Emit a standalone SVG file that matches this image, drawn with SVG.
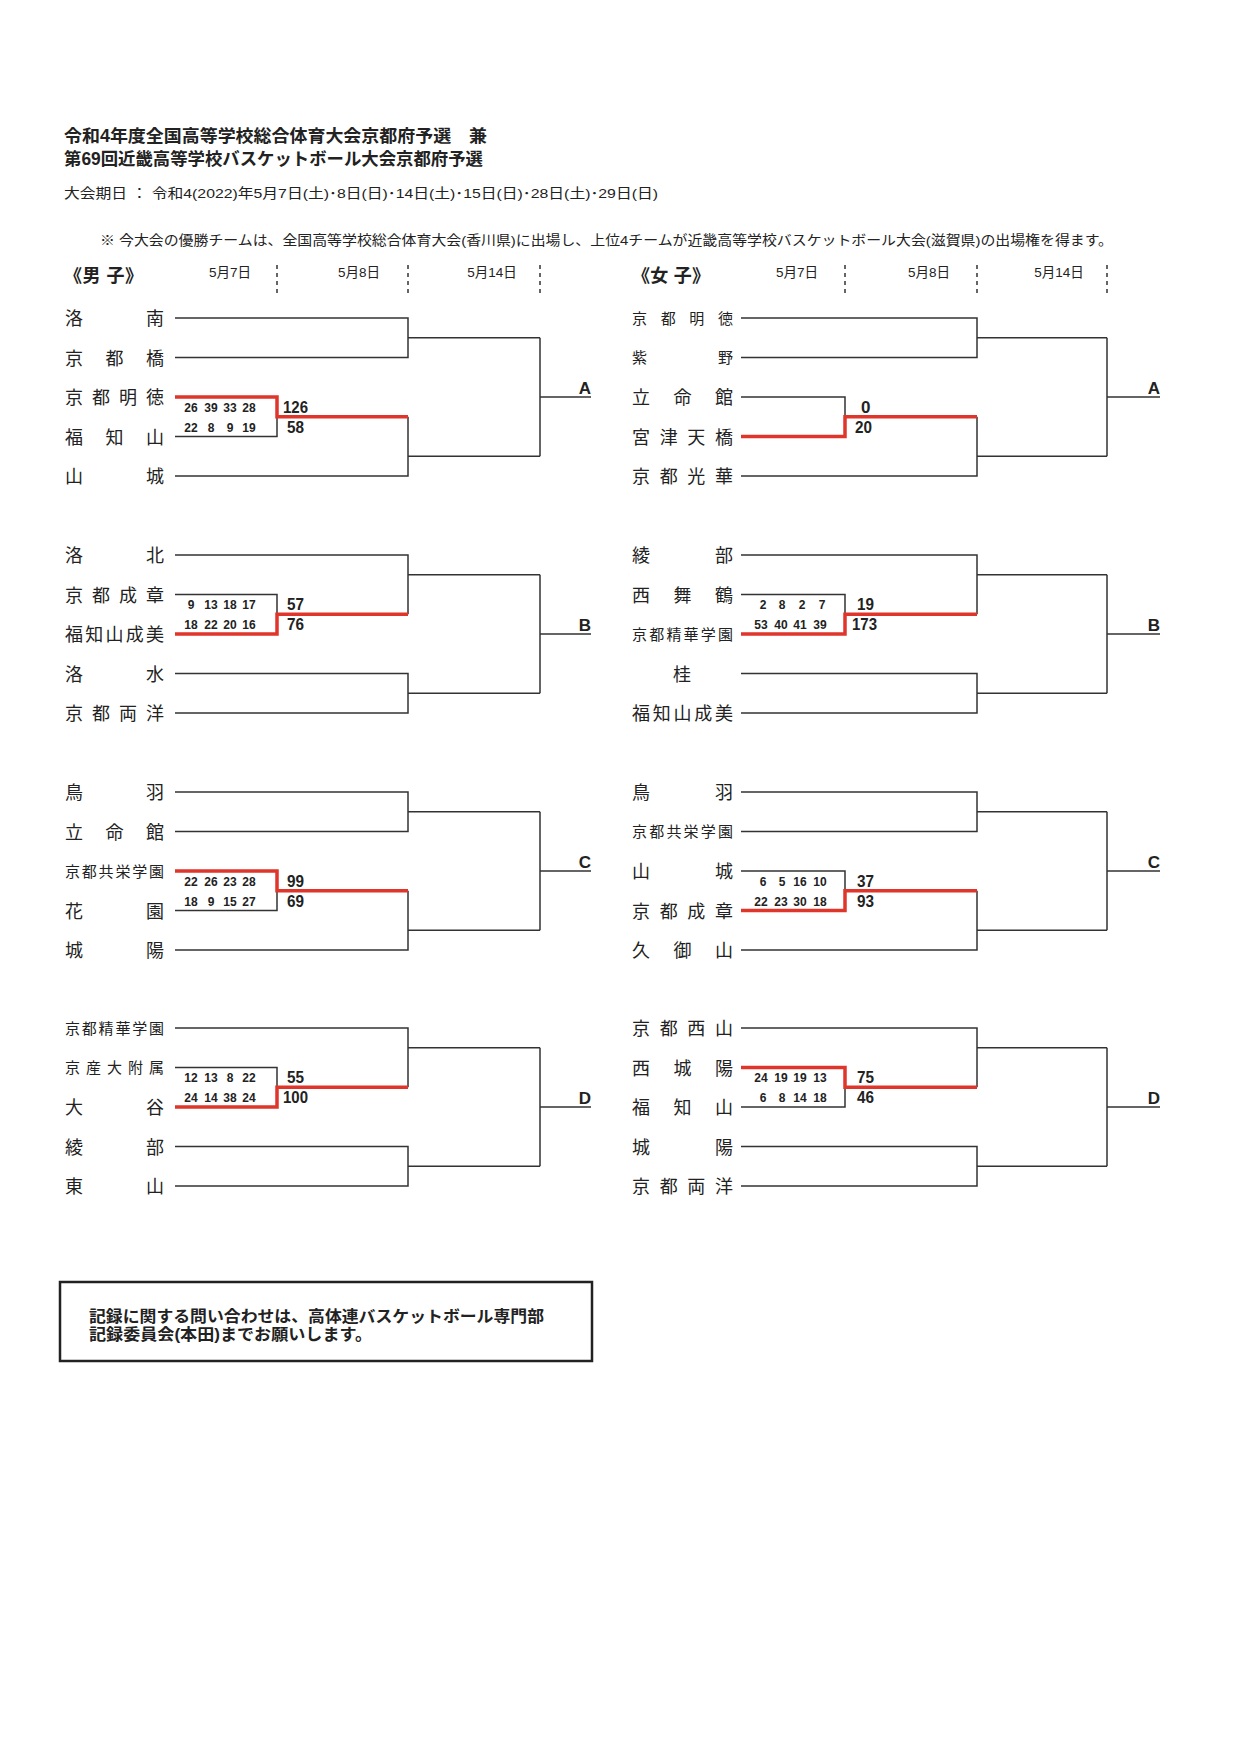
<svg xmlns="http://www.w3.org/2000/svg" width="1241" height="1752" viewBox="0 0 1241 1752">
<style>
text{font-family:"Liberation Sans","Noto Sans CJK JP",sans-serif;fill:#222}
.t{font-size:17.5px;font-weight:bold}
.s{font-size:13.5px}
.h{font-size:18px;font-weight:bold}
.d{font-size:13.5px;text-anchor:middle}
.n{font-size:18px}
.ns{font-size:15px}
.sc{font-size:17px;font-weight:bold}
.q{font-size:12px;font-weight:bold;text-anchor:middle}
.L{font-size:17px;font-weight:bold;text-anchor:middle}
.b{fill:none;stroke:#333;stroke-width:1.5}
.r{fill:none;stroke:#e0352b;stroke-width:3.5}
.dash{stroke:#333;stroke-width:1.5;stroke-dasharray:4 4}
</style>
<g id="header">
<text class="t" x="64" y="142" textLength="423" lengthAdjust="spacingAndGlyphs">令和4年度全国高等学校総合体育大会京都府予選　兼</text>
<text class="t" x="64" y="165" textLength="419" lengthAdjust="spacingAndGlyphs">第69回近畿高等学校バスケットボール大会京都府予選</text>
<text class="s" x="64" y="198" textLength="594" lengthAdjust="spacingAndGlyphs">大会期日 ： 令和4(2022)年5月7日(土)･8日(日)･14日(土)･15日(日)･28日(土)･29日(日)</text>
<text class="s" x="100" y="245" textLength="1013" lengthAdjust="spacingAndGlyphs">※  今大会の優勝チームは、全国高等学校総合体育大会(香川県)に出場し、上位4チームが近畿高等学校バスケットボール大会(滋賀県)の出場権を得ます。</text>
<text class="h" x="64" y="282" textLength="79" lengthAdjust="spacing">《男 子》</text>
<text class="d" x="230" y="277">5月7日</text><text class="d" x="359" y="277">5月8日</text><text class="d" x="492" y="277">5月14日</text>
<text class="h" x="632" y="282" textLength="78" lengthAdjust="spacing">《女 子》</text>
<text class="d" x="797" y="277">5月7日</text><text class="d" x="929" y="277">5月8日</text><text class="d" x="1059" y="277">5月14日</text>
<line class="dash" x1="277" y1="265" x2="277" y2="297"/><line class="dash" x1="408" y1="265" x2="408" y2="297"/><line class="dash" x1="540" y1="265" x2="540" y2="297"/>
<line class="dash" x1="845" y1="265" x2="845" y2="297"/><line class="dash" x1="977" y1="265" x2="977" y2="297"/><line class="dash" x1="1107" y1="265" x2="1107" y2="297"/>
</g>
<g id="teams">
<text class="n" x="65" y="325" textLength="99" lengthAdjust="spacing">洛南</text>
<text class="n" x="65" y="364.5" textLength="99" lengthAdjust="spacing">京都橋</text>
<text class="n" x="65" y="404" textLength="99" lengthAdjust="spacing">京都明徳</text>
<text class="n" x="65" y="443.5" textLength="99" lengthAdjust="spacing">福知山</text>
<text class="n" x="65" y="483" textLength="99" lengthAdjust="spacing">山城</text>
<text class="n" x="65" y="562" textLength="99" lengthAdjust="spacing">洛北</text>
<text class="n" x="65" y="601.5" textLength="99" lengthAdjust="spacing">京都成章</text>
<text class="n" x="65" y="641" textLength="99" lengthAdjust="spacing">福知山成美</text>
<text class="n" x="65" y="680.5" textLength="99" lengthAdjust="spacing">洛水</text>
<text class="n" x="65" y="720" textLength="99" lengthAdjust="spacing">京都両洋</text>
<text class="n" x="65" y="799" textLength="99" lengthAdjust="spacing">鳥羽</text>
<text class="n" x="65" y="838.5" textLength="99" lengthAdjust="spacing">立命館</text>
<text class="ns" x="65" y="876.5" textLength="99" lengthAdjust="spacing">京都共栄学園</text>
<text class="n" x="65" y="917.5" textLength="99" lengthAdjust="spacing">花園</text>
<text class="n" x="65" y="957" textLength="99" lengthAdjust="spacing">城陽</text>
<text class="ns" x="65" y="1033.5" textLength="99" lengthAdjust="spacing">京都精華学園</text>
<text class="ns" x="65" y="1073" textLength="99" lengthAdjust="spacing">京産大附属</text>
<text class="n" x="65" y="1114" textLength="99" lengthAdjust="spacing">大谷</text>
<text class="n" x="65" y="1153.5" textLength="99" lengthAdjust="spacing">綾部</text>
<text class="n" x="65" y="1193" textLength="99" lengthAdjust="spacing">東山</text>
<text class="ns" x="632" y="323.5" textLength="101" lengthAdjust="spacing">京都明徳</text>
<text class="ns" x="632" y="363" textLength="101" lengthAdjust="spacing">紫野</text>
<text class="n" x="632" y="404" textLength="101" lengthAdjust="spacing">立命館</text>
<text class="n" x="632" y="443.5" textLength="101" lengthAdjust="spacing">宮津天橋</text>
<text class="n" x="632" y="483" textLength="101" lengthAdjust="spacing">京都光華</text>
<text class="n" x="632" y="562" textLength="101" lengthAdjust="spacing">綾部</text>
<text class="n" x="632" y="601.5" textLength="101" lengthAdjust="spacing">西舞鶴</text>
<text class="ns" x="632" y="639.5" textLength="101" lengthAdjust="spacing">京都精華学園</text>
<text class="n" x="682" y="680.5" text-anchor="middle">桂</text>
<text class="n" x="632" y="720" textLength="101" lengthAdjust="spacing">福知山成美</text>
<text class="n" x="632" y="799" textLength="101" lengthAdjust="spacing">鳥羽</text>
<text class="ns" x="632" y="837" textLength="101" lengthAdjust="spacing">京都共栄学園</text>
<text class="n" x="632" y="878" textLength="101" lengthAdjust="spacing">山城</text>
<text class="n" x="632" y="917.5" textLength="101" lengthAdjust="spacing">京都成章</text>
<text class="n" x="632" y="957" textLength="101" lengthAdjust="spacing">久御山</text>
<text class="n" x="632" y="1035" textLength="101" lengthAdjust="spacing">京都西山</text>
<text class="n" x="632" y="1074.5" textLength="101" lengthAdjust="spacing">西城陽</text>
<text class="n" x="632" y="1114" textLength="101" lengthAdjust="spacing">福知山</text>
<text class="n" x="632" y="1153.5" textLength="101" lengthAdjust="spacing">城陽</text>
<text class="n" x="632" y="1193" textLength="101" lengthAdjust="spacing">京都両洋</text>
</g>
<g id="connectors">
<path class="b" d="M175 318H408V357.5H175M408 337.75H540M175 397H277V436.5H175M277 416.75H408M175 476H408V416.75M408 456.25H540M540 337.75V456.25M540 397H591"/>
<path class="b" d="M175 555H408V614.25M175 594.5H277V634H175M277 614.25H408M408 574.75H540M175 673.5H408V713H175M408 693.25H540M540 574.75V693.25M540 634H591"/>
<path class="b" d="M175 792H408V831.5H175M408 811.75H540M175 871H277V910.5H175M277 890.75H408M175 950H408V890.75M408 930.25H540M540 811.75V930.25M540 871H591"/>
<path class="b" d="M175 1028H408V1087.25M175 1067.5H277V1107H175M277 1087.25H408M408 1047.75H540M175 1146.5H408V1186H175M408 1166.25H540M540 1047.75V1166.25M540 1107H591"/>
<path class="b" d="M741 318H977V357.5H741M977 337.75H1107M741 397H845V436.5H741M845 416.75H977M741 476H977V416.75M977 456.25H1107M1107 337.75V456.25M1107 397H1160"/>
<path class="b" d="M741 555H977V614.25M741 594.5H845V634H741M845 614.25H977M977 574.75H1107M741 673.5H977V713H741M977 693.25H1107M1107 574.75V693.25M1107 634H1160"/>
<path class="b" d="M741 792H977V831.5H741M977 811.75H1107M741 871H845V910.5H741M845 890.75H977M741 950H977V890.75M977 930.25H1107M1107 811.75V930.25M1107 871H1160"/>
<path class="b" d="M741 1028H977V1087.25M741 1067.5H845V1107H741M845 1087.25H977M977 1047.75H1107M741 1146.5H977V1186H741M977 1166.25H1107M1107 1047.75V1166.25M1107 1107H1160"/>
<path class="r" d="M175 397H277V416.75H408"/>
<path class="r" d="M175 634H277V614.25H408"/>
<path class="r" d="M175 871H277V890.75H408"/>
<path class="r" d="M175 1107H277V1087.25H408"/>
<path class="r" d="M741 436.5H845V416.75H977"/>
<path class="r" d="M741 634H845V614.25H977"/>
<path class="r" d="M741 910.5H845V890.75H977"/>
<path class="r" d="M741 1067.5H845V1087.25H977"/>
</g>
<g id="blockLabels">
<text class="L" x="585" y="394">A</text><text class="L" x="585" y="631">B</text><text class="L" x="585" y="868">C</text><text class="L" x="585" y="1104">D</text>
<text class="L" x="1154" y="394">A</text><text class="L" x="1154" y="631">B</text><text class="L" x="1154" y="868">C</text><text class="L" x="1154" y="1104">D</text>
</g>
<g id="scores">
<text class="sc" x="283" y="413" textLength="25" lengthAdjust="spacingAndGlyphs">126</text><text class="sc" x="287" y="433" textLength="17" lengthAdjust="spacingAndGlyphs">58</text>
<text class="q" y="412"><tspan x="191">26</tspan><tspan x="211">39</tspan><tspan x="230">33</tspan><tspan x="249">28</tspan></text>
<text class="q" y="432"><tspan x="191">22</tspan><tspan x="211">8</tspan><tspan x="230">9</tspan><tspan x="249">19</tspan></text>
<text class="sc" x="287" y="610" textLength="17" lengthAdjust="spacingAndGlyphs">57</text><text class="sc" x="287" y="630" textLength="17" lengthAdjust="spacingAndGlyphs">76</text>
<text class="q" y="609"><tspan x="191">9</tspan><tspan x="211">13</tspan><tspan x="230">18</tspan><tspan x="249">17</tspan></text>
<text class="q" y="629"><tspan x="191">18</tspan><tspan x="211">22</tspan><tspan x="230">20</tspan><tspan x="249">16</tspan></text>
<text class="sc" x="287" y="887" textLength="17" lengthAdjust="spacingAndGlyphs">99</text><text class="sc" x="287" y="907" textLength="17" lengthAdjust="spacingAndGlyphs">69</text>
<text class="q" y="886"><tspan x="191">22</tspan><tspan x="211">26</tspan><tspan x="230">23</tspan><tspan x="249">28</tspan></text>
<text class="q" y="906"><tspan x="191">18</tspan><tspan x="211">9</tspan><tspan x="230">15</tspan><tspan x="249">27</tspan></text>
<text class="sc" x="287" y="1083" textLength="17" lengthAdjust="spacingAndGlyphs">55</text><text class="sc" x="283" y="1103" textLength="25" lengthAdjust="spacingAndGlyphs">100</text>
<text class="q" y="1082"><tspan x="191">12</tspan><tspan x="211">13</tspan><tspan x="230">8</tspan><tspan x="249">22</tspan></text>
<text class="q" y="1102"><tspan x="191">24</tspan><tspan x="211">14</tspan><tspan x="230">38</tspan><tspan x="249">24</tspan></text>
<text class="sc" x="861" y="413">0</text><text class="sc" x="855" y="433" textLength="17" lengthAdjust="spacingAndGlyphs">20</text>
<text class="sc" x="857" y="610" textLength="17" lengthAdjust="spacingAndGlyphs">19</text><text class="sc" x="852" y="630" textLength="25" lengthAdjust="spacingAndGlyphs">173</text>
<text class="q" y="609"><tspan x="763">2</tspan><tspan x="782">8</tspan><tspan x="802">2</tspan><tspan x="822">7</tspan></text>
<text class="q" y="629"><tspan x="761">53</tspan><tspan x="781">40</tspan><tspan x="800">41</tspan><tspan x="820">39</tspan></text>
<text class="sc" x="857" y="887" textLength="17" lengthAdjust="spacingAndGlyphs">37</text><text class="sc" x="857" y="907" textLength="17" lengthAdjust="spacingAndGlyphs">93</text>
<text class="q" y="886"><tspan x="763">6</tspan><tspan x="782">5</tspan><tspan x="800">16</tspan><tspan x="820">10</tspan></text>
<text class="q" y="906"><tspan x="761">22</tspan><tspan x="781">23</tspan><tspan x="800">30</tspan><tspan x="820">18</tspan></text>
<text class="sc" x="857" y="1083" textLength="17" lengthAdjust="spacingAndGlyphs">75</text><text class="sc" x="857" y="1103" textLength="17" lengthAdjust="spacingAndGlyphs">46</text>
<text class="q" y="1082"><tspan x="761">24</tspan><tspan x="781">19</tspan><tspan x="800">19</tspan><tspan x="820">13</tspan></text>
<text class="q" y="1102"><tspan x="763">6</tspan><tspan x="782">8</tspan><tspan x="800">14</tspan><tspan x="820">18</tspan></text>
</g>
<g id="note">
<rect x="60" y="1282" width="532" height="79" fill="none" stroke="#222" stroke-width="2.5"/>
<text class="t" x="89" y="1322" style="font-size:16px" textLength="455" lengthAdjust="spacingAndGlyphs">記録に関する問い合わせは、高体連バスケットボール専門部</text>
<text class="t" x="89" y="1340" style="font-size:16px" textLength="283" lengthAdjust="spacingAndGlyphs">記録委員会(本田)までお願いします。</text>
</g>
</svg>
